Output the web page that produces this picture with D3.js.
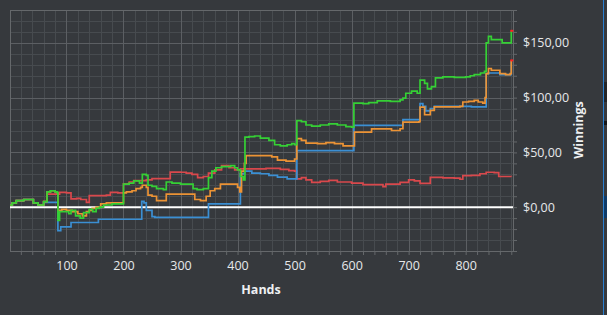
<!DOCTYPE html>
<html><head><meta charset="utf-8">
<script src="https://cdn.jsdelivr.net/npm/d3@7"></script>
<style>
html,body{margin:0;padding:0;background:#36393d;overflow:hidden}
svg{display:block}
</style></head><body>
<svg id="c" width="607" height="315"></svg>
<script>
// ---- data (hands, winnings $) ----
const green = [[1,2],[5,4],[12,6],[25,7],[42,4],[50,2],[60,5],[66,14],[72,15],[80,14],[84,13],[85,-12],[88,-4],[96,-4],[104,-6],[108,-3],[116,-8],[124,-10],[130,-5],[140,-2],[146,-4],[152,-1],[158,0],[165,2],[180,3],[198,3],[200,21],[210,22],[218,24],[228,22],[233,30],[240,29],[243,20],[250,19],[258,17],[270,16],[275,23],[285,22],[300,21],[315,21],[322,17],[329,16],[340,17],[349,27],[355,33],[362,36],[372,37],[388,38],[395,36],[400,34],[405,28],[410,25],[413,64],[420,64.5],[430,65],[440,63],[455,61],[465,57],[475,56],[487,57],[495,58],[500,57],[504,79],[512,78],[520,75],[530,74],[545,75],[560,76],[575,75],[590,73.5],[600,73],[604,95],[620,94.5],[630,95.5],[645,97],[668,96.5],[685,98],[690,99.5],[695,104],[705,106],[715,104],[720,116],[728,113],[733,108],[740,110],[747,118],[760,119],[780,118.5],[800,119],[808,120],[815,121],[826,122.5],[833,124],[836,150],[840,156],[845,153],[860,153],[864,150],[878,150],[880,161]];
const orange = [[1,2],[5,4],[12,6],[25,7],[42,4],[50,2],[60,5],[66,14],[72,15],[80,14],[84,13],[85,-3],[92,-2],[100,-3],[110,-4],[120,-6],[128,-8],[135,-4],[140,-3],[145,-1],[152,0],[160,3],[170,4],[195,4],[200,13],[205,14],[215,15],[222,17],[230,18],[233,20],[240,18],[243,11],[250,10],[258,6],[270,6],[275,12],[295,12],[315,12],[325,7],[335,6],[345,10],[352,15],[360,17],[370,21],[395,21],[400,18],[404,14],[407,33],[412,40],[415,47],[450,47],[460,46],[470,43],[485,42],[495,42],[500,44],[504,62.5],[512,61],[520,58.5],[540,58],[555,59],[570,58],[585,56],[600,56],[605,68.5],[625,68.5],[635,71.5],[660,71.5],[670,70],[685,71.6],[690,77.7],[718,78],[720,91.4],[728,84.4],[738,88.4],[745,91.5],[790,92],[795,96],[805,96.5],[815,97.5],[822,96],[830,95],[834,100],[836,122],[840,126.6],[845,125],[860,122],[870,121],[878,122],[880,134]];
const blue = [[1,2],[5,4],[12,6],[25,7],[42,4],[50,2],[60,4.4],[84,4.4],[85,-21.5],[90,-18],[108,-14],[156,-11],[230,-11],[232,5.3],[236,4],[240,-3],[250,-8.7],[255,-9.3],[345,-9.3],[349,3],[402,3],[405,30.4],[412,33],[425,31],[440,30.5],[455,29],[470,27.5],[487,25.8],[500,25.8],[504,51.7],[604,74.6],[690,80],[718,80],[720,94.5],[725,92],[730,88],[738,90],[745,92],[790,92],[810,91.5],[835,91.5],[836,122],[840,122.5],[860,121],[870,121],[880,134]];
const red = [[1,2],[5,4],[12,6],[25,7],[42,4],[50,2],[60,5],[66,12],[80,12],[88,13.6],[100,13],[108,7.5],[118,8],[125,7],[135,4.4],[140,10.5],[155,10.5],[170,11],[177,13.6],[190,13],[200,21.2],[210,23],[218,24.3],[240,25],[250,26],[265,26],[282,32],[300,31.9],[310,31],[320,30],[330,27],[340,28],[349,31],[360,34],[372,38],[385,36],[395,34],[405,35],[450,35.5],[475,34.5],[490,33.4],[500,33],[504,25.8],[512,27],[520,25],[530,22.7],[545,23.5],[560,24.5],[575,23],[600,22],[620,20.6],[640,20.6],[655,18.8],[660,21],[685,22.7],[700,24.9],[710,24],[720,21.8],[735,21.8],[738,27.3],[760,26.8],[780,26.5],[790,25.5],[795,28.8],[810,29],[825,30.5],[836,31.9],[850,31.5],[858,28],[880,27.9]];
const xTicks = [100,200,300,400,500,600,700,800];
const yTicks = [0,50,100,150];
const xDomain = [1,883];
const yDomain = [-40,180];
const series = [
  {name:"red", data:red, color:"#d9484c"},
  {name:"blue", data:blue, color:"#3b8fd3"},
  {name:"orange", data:orange, color:"#ec9335"},
  {name:"green", data:green, color:"#35d035"}
];

const svg = d3.select("#c");
const L=10, T=10, R=513, B=251;
const x = d3.scaleLinear().domain(xDomain).range([L,R]);
const y = d3.scaleLinear().domain(yDomain).range([B,T]);
const font = "'Segoe UI','Open Sans','Noto Sans',sans-serif";

// grid
const g = svg.append("g");
const minorX = d3.range(20, 883, 20).filter(v=>v%100!==0);
const minorY = d3.range(-40, 181, 10).filter(v=>v%50!==0);
g.selectAll(".mx").data(minorX).join("line").attr("x1",d=>Math.round(x(d))+0.5).attr("x2",d=>Math.round(x(d))+0.5).attr("y1",T).attr("y2",B).attr("stroke","#474b4f");
g.selectAll(".my").data(minorY).join("line").attr("y1",d=>Math.round(y(d))+0.5).attr("y2",d=>Math.round(y(d))+0.5).attr("x1",L).attr("x2",R).attr("stroke","#474b4f");
g.selectAll(".Mx").data(xTicks).join("line").attr("x1",d=>Math.round(x(d))+0.5).attr("x2",d=>Math.round(x(d))+0.5).attr("y1",T).attr("y2",B).attr("stroke","#5c5f63");
g.selectAll(".My").data(yTicks.filter(v=>v!==0)).join("line").attr("y1",d=>Math.round(y(d))+0.5).attr("y2",d=>Math.round(y(d))+0.5).attr("x1",L).attr("x2",R).attr("stroke","#5c5f63");
g.append("rect").attr("x",L+0.5).attr("y",T+0.5).attr("width",R-L).attr("height",B-T).attr("fill","none").attr("stroke","#65686b");

// axes
const xAxis = d3.axisBottom(x).tickValues(d3.range(20,883,20)).tickSize(4).tickFormat(d=>xTicks.includes(d)?d:"");
const ax = svg.append("g").attr("transform",`translate(0,${B})`).call(xAxis);
const yAxis = d3.axisRight(y).tickValues(d3.range(-40,181,10)).tickSize(4).tickFormat(d=>yTicks.includes(d)?("$"+d3.format(".2f")(d).replace(".",",")):"");
const ay = svg.append("g").attr("transform",`translate(${R},0)`).call(yAxis);
[ax,ay].forEach(a=>{
  a.select(".domain").remove();
  a.selectAll(".tick line").attr("stroke","#65686b");
  a.selectAll("text").attr("fill","#e6e8ea").style("font-family",font).style("font-size","12.5px");
});
ax.selectAll("text").attr("dy","1.05em").attr("y",6);
ay.selectAll("text").attr("x",10);

// zero line
svg.append("line").attr("x1",L).attr("x2",R).attr("y1",y(0)).attr("y2",y(0)).attr("stroke","#ffffff").attr("stroke-width",2);

// series
const line = d3.line().x(d=>x(d[0])).y(d=>y(d[1])).curve(d3.curveStepAfter);
series.forEach(s=>{
  svg.append("path").datum(s.data).attr("d",line).attr("fill","none").attr("stroke",s.color).attr("stroke-width",1.7);
});
// end markers
[green, orange].forEach(s=>{
  const e = s[s.length-1];
  svg.append("rect").attr("x",x(e[0])-1).attr("y",y(e[1])-1).attr("width",3).attr("height",2).attr("fill","#ff2020");
});

// titles
svg.append("text").attr("x",261).attr("y",294).attr("text-anchor","middle").attr("fill","#eef0f2").style("font-family",font).style("font-weight","bold").style("font-size","12.5px").text("Hands");
svg.append("text").attr("transform","translate(583,130) rotate(-90)").attr("text-anchor","middle").attr("fill","#eef0f2").style("font-family",font).style("font-weight","bold").style("font-size","12.5px").text("Winnings");

// right-edge window artefacts
svg.append("rect").attr("x",603).attr("y",0).attr("width",1).attr("height",315).attr("fill","#2a7fd0");
svg.append("rect").attr("x",604).attr("y",82).attr("width",3).attr("height",20).attr("fill","#232528");
svg.append("rect").attr("x",604).attr("y",121).attr("width",3).attr("height",4).attr("fill","#151618");
svg.append("rect").attr("x",604).attr("y",196).attr("width",3).attr("height",22).attr("fill","#0f3a66");
</script></body></html>
